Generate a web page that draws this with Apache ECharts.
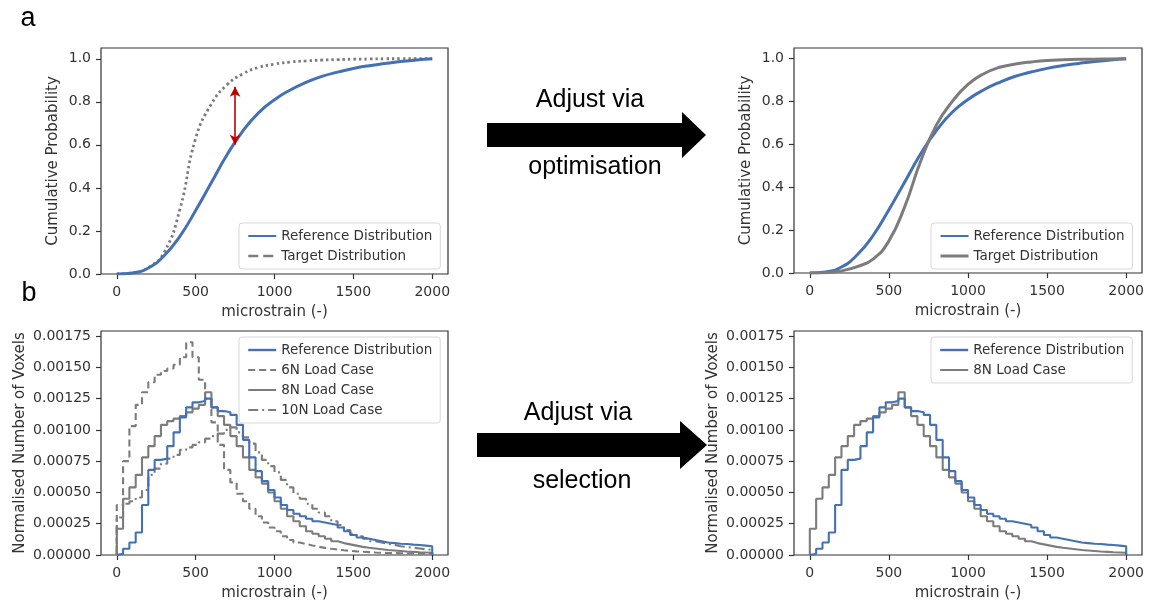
<!DOCTYPE html>
<html>
<head>
<meta charset="utf-8">
<title>microstrain distributions</title>
<script src="https://cdn.jsdelivr.net/npm/echarts@6/dist/echarts.min.js"></script>
<style>
  html, body { margin: 0; padding: 0; background: #fff; }
  #chart { width: 1157px; height: 603px; }
</style>
</head>
<body>
<div id="chart"></div>
<script>
// cumulative curves, sampled every 100 microstrain
const cdfX = [0, 100, 200, 300, 400, 500, 600, 700, 800, 900, 1000, 1100, 1200, 1300, 1400, 1500, 1600, 1700, 1800, 1900, 2000]
const refCdf = [0, 0.005, 0.028, 0.085, 0.175, 0.295, 0.425, 0.555, 0.665, 0.75, 0.81, 0.855, 0.89, 0.918, 0.938, 0.955, 0.968, 0.978, 0.987, 0.994, 1.0]
const targetCdf = [0, 0.005, 0.03, 0.1, 0.3, 0.63, 0.79, 0.88, 0.93, 0.96, 0.975, 0.985, 0.99, 0.994, 0.996, 0.998, 0.999, 1.0, 1.0, 1.0, 1.0]
const optimisedCdf = [0, 0.001, 0.01, 0.03, 0.065, 0.15, 0.31, 0.52, 0.69, 0.8, 0.88, 0.93, 0.96, 0.975, 0.985, 0.992, 0.995, 0.997, 0.998, 0.999, 1.0]

// histogram bins (left edges, width 40)
const binEdges = [0, 40, 80, 120, 160, 200, 240, 280, 320, 360, 400, 440, 480, 520, 560, 600, 640, 680, 720, 760,
  800, 840, 880, 920, 960, 1000, 1040, 1080, 1120, 1160, 1200, 1240, 1280, 1320, 1360, 1400, 1440, 1480, 1520, 1560,
  1600, 1640, 1680, 1720, 1760, 1800, 1840, 1880, 1920, 1960]
const refHist = [0.00001, 0.00005, 0.0001, 0.00018, 0.0004, 0.00068, 0.00076, 0.00077, 0.00087, 0.00098,
  0.0011, 0.00118, 0.00122, 0.00123, 0.00125, 0.00118, 0.00115, 0.00114, 0.00112, 0.00104,
  0.00092, 0.00078, 0.00067, 0.00059, 0.00052, 0.00046, 0.0004, 0.00036, 0.00033, 0.00031,
  0.00029, 0.00027, 0.00026, 0.00025, 0.00024, 0.00022, 0.00019, 0.00016, 0.00014, 0.00013,
  0.00012, 0.00011, 0.0001, 0.000095, 0.00009, 0.000088, 0.000083, 0.00008, 0.000075, 0.00007]
const n6Hist = [0.0004, 0.00075, 0.00103, 0.0012, 0.0013, 0.00138, 0.00144, 0.00147, 0.00149, 0.00152,
  0.00158, 0.0017, 0.00158, 0.0014, 0.00125, 0.00106, 0.00088, 0.00068, 0.00058, 0.00049,
  0.00043, 0.00037, 0.00031, 0.00026, 0.00022, 0.00019, 0.00015, 0.00012, 0.0001, 0.000088,
  0.000076, 0.000066, 0.000057, 0.00005, 0.000044, 0.000038, 0.000033, 0.000029, 0.000026, 0.000023,
  0.00002, 0.000018, 0.000016, 0.000015, 0.000014, 0.000013, 0.000012, 0.000011, 0.00001, 0.00001]
const n8Hist = [0.00021, 0.00045, 0.00054, 0.00064, 0.00078, 0.00087, 0.00095, 0.00104, 0.00107, 0.00109,
  0.00111, 0.00114, 0.00117, 0.0012, 0.0013, 0.00118, 0.00111, 0.00104, 0.00095, 0.00087,
  0.00078, 0.00068, 0.00062, 0.00057, 0.0005, 0.00043, 0.00037, 0.00031, 0.00027, 0.00023,
  0.00019, 0.00017, 0.00015, 0.00013, 0.00011, 0.000095, 0.000085, 0.000075, 0.000065, 0.000058,
  0.000052, 0.000046, 0.00004, 0.000036, 0.000032, 0.000028, 0.000025, 0.000022, 0.00002, 0.000018]
const n10Hist = [0.0003, 0.00041, 0.00043, 0.00046, 0.00052, 0.00064, 0.00069, 0.00073, 0.00077, 0.0008,
  0.00084, 0.00086, 0.00088, 0.0009, 0.00093, 0.00095, 0.00097, 0.001, 0.00102, 0.00098,
  0.00094, 0.00089, 0.00082, 0.00076, 0.00071, 0.00066, 0.0006, 0.00054, 0.00049, 0.00045,
  0.00041, 0.00037, 0.00034, 0.00031, 0.00027, 0.00024, 0.0002, 0.00017, 0.00015, 0.00013,
  0.00011, 0.0001, 0.00009, 0.00008, 0.00007, 0.000064, 0.000058, 0.000052, 0.000046, 0.00004]

const xTicks = [0, 500, 1000, 1500, 2000]
const cdfTicks = [0, 0.2, 0.4, 0.6, 0.8, 1.0]
const histTicks = [0, 0.00025, 0.0005, 0.00075, 0.001, 0.00125, 0.0015, 0.00175]
const gapArrow = [[750, 0.6], [750, 0.87]]

const BLUE = '#4470b4'
const GREY = '#7c7c7c'
const FONT = 'DejaVu Sans'

function pairs(xs, ys) {
  return xs.map((x, i) => [x, ys[i]])
}

// matplotlib histtype="step": drop to zero at both ends
function stepLine(values) {
  const pts = [[0, 0]]
  binEdges.forEach((e, i) => pts.push([e, values[i]]))
  pts.push([2000, values[values.length - 1]])
  pts.push([2000, 0])
  return pts
}

const grids = [
  { left: 101, top: 48, width: 347, height: 226 },
  { left: 794, top: 48, width: 348, height: 225 },
  { left: 101, top: 331, width: 347, height: 224 },
  { left: 794, top: 331, width: 348, height: 224 }
]

function xAxisFor(i) {
  return {
    type: 'value', gridIndex: i, min: -100, max: 2100,
    name: 'microstrain (-)', nameLocation: 'middle', nameGap: 31,
    nameTextStyle: { fontFamily: FONT, fontSize: 15, color: '#333' },
    splitLine: { show: false },
    axisLine: { show: false, onZero: false },
    axisTick: { show: true, inside: false, length: 5, customValues: xTicks, lineStyle: { color: '#333', width: 1.2 } },
    axisLabel: { customValues: xTicks, margin: 11, fontFamily: FONT, fontSize: 14, color: '#333', formatter: v => String(v) }
  }
}

function yAxisFor(i, max, ticks, digits, name, gap) {
  return {
    type: 'value', gridIndex: i, min: 0, max: max,
    name: name, nameLocation: 'middle', nameGap: gap,
    nameTextStyle: { fontFamily: FONT, fontSize: 15, color: '#333' },
    splitLine: { show: false },
    axisLine: { show: false, onZero: false },
    axisTick: { show: true, inside: false, length: 5, customValues: ticks, lineStyle: { color: '#333', width: 1.2 } },
    axisLabel: {
      customValues: ticks, margin: 10, fontFamily: FONT, fontSize: 14, color: '#333',
      formatter: v => v.toFixed(digits)
    }
  }
}

function legendAt(left, top, items) {
  return {
    left: left, top: top, orient: 'vertical', selectedMode: false,
    itemWidth: 28, itemHeight: 14, itemGap: 6, padding: [6, 8, 6, 8],
    backgroundColor: 'rgba(255,255,255,0.85)', borderColor: '#d8d8d8', borderWidth: 1, borderRadius: 3,
    itemStyle: { opacity: 0 },
    textStyle: { fontFamily: FONT, fontSize: 13.5, color: '#333' },
    data: items
  }
}

function curve(name, i, ys, style) {
  return {
    name: name, type: 'line', xAxisIndex: i, yAxisIndex: i, data: pairs(cdfX, ys),
    smooth: 0.5, symbol: 'none', itemStyle: { color: style.color }, lineStyle: style, z: 3
  }
}

function hist(name, i, values, style) {
  return {
    name: name, type: 'line', xAxisIndex: i, yAxisIndex: i, data: stepLine(values),
    step: 'end', symbol: 'none', itemStyle: { color: style.color }, lineStyle: style
  }
}

function arrowPolygon(x0, x1, xTip, yMid, half, headHalf) {
  return {
    type: 'polygon',
    shape: { points: [[x0, yMid - half], [x1, yMid - half], [x1, yMid - headHalf], [xTip, yMid],
      [x1, yMid + headHalf], [x1, yMid + half], [x0, yMid + half]] },
    style: { fill: '#000' }
  }
}

function label(text, x, y, size, family) {
  return {
    type: 'text', x: x, y: y,
    style: { text: text, fontFamily: family, fontSize: size, fill: '#000', align: 'center', verticalAlign: 'middle' }
  }
}

const chart = echarts.init(document.getElementById('chart'), null, { renderer: 'canvas' })

chart.setOption({
  animation: false,
  backgroundColor: '#fff',
  grid: grids.map(g => Object.assign({ show: true, borderColor: '#333', borderWidth: 1.2, backgroundColor: 'transparent' }, g)),
  xAxis: [0, 1, 2, 3].map(xAxisFor),
  yAxis: [
    yAxisFor(0, 1.05, cdfTicks, 1, 'Cumulative Probability', 40),
    yAxisFor(1, 1.05, cdfTicks, 1, 'Cumulative Probability', 40),
    yAxisFor(2, 0.00179, histTicks, 5, 'Normalised Number of Voxels', 73),
    yAxisFor(3, 0.00179, histTicks, 5, 'Normalised Number of Voxels', 73)
  ],
  legend: [
    legendAt(239, 223, [
      { name: 'Reference Distribution' },
      { name: 'Target Distribution', lineStyle: { type: 'dashed', width: 2.5, color: GREY } }
    ]),
    legendAt(931, 223, [
      { name: 'Reference Distribution' },
      { name: 'Target Distribution', lineStyle: { type: 'solid', width: 3, color: GREY } }
    ]),
    legendAt(239, 337, [
      { name: 'Reference Distribution', lineStyle: { width: 2.4 } },
      { name: '6N Load Case' },
      { name: '8N Load Case' },
      { name: '10N Load Case' }
    ]),
    legendAt(931, 337, [
      { name: 'Reference Distribution', lineStyle: { width: 2.4 } },
      { name: '8N Load Case' }
    ])
  ],
  series: [
    curve('Target Distribution', 0, targetCdf, { color: GREY, width: 2.8, type: [2.5, 3] }),
    Object.assign(curve('Reference Distribution', 0, refCdf, { color: BLUE, width: 3 }), {
      markLine: {
        silent: true, symbol: ['arrow', 'arrow'], symbolSize: [8, 10],
        label: { show: false },
        lineStyle: { color: '#c00000', width: 1.6, type: 'solid' },
        data: [[{ coord: gapArrow[0] }, { coord: gapArrow[1] }]]
      }
    }),
    curve('Reference Distribution', 1, refCdf, { color: BLUE, width: 3 }),
    curve('Target Distribution', 1, optimisedCdf, { color: GREY, width: 3 }),

    hist('6N Load Case', 2, n6Hist, { color: GREY, width: 2.1, type: [7, 4] }),
    hist('8N Load Case', 2, n8Hist, { color: GREY, width: 2.1 }),
    hist('10N Load Case', 2, n10Hist, { color: GREY, width: 2.1, type: [10, 4, 2, 4] }),
    hist('Reference Distribution', 2, refHist, { color: BLUE, width: 2.1 }),

    hist('8N Load Case', 3, n8Hist, { color: GREY, width: 2.1 }),
    hist('Reference Distribution', 3, refHist, { color: BLUE, width: 2.1 })
  ],
  graphic: [
    label('a', 28, 19, 27, 'Liberation Sans'),
    label('b', 29, 294, 27, 'Liberation Sans'),
    arrowPolygon(487, 682, 706, 135, 12, 23),
    label('Adjust via', 590, 100, 25, 'Liberation Sans'),
    label('optimisation', 595, 167, 25, 'Liberation Sans'),
    arrowPolygon(477, 680, 707, 445, 12, 24),
    label('Adjust via', 578, 413, 25, 'Liberation Sans'),
    label('selection', 582, 481, 25, 'Liberation Sans')
  ]
})
</script>
</body>
</html>
